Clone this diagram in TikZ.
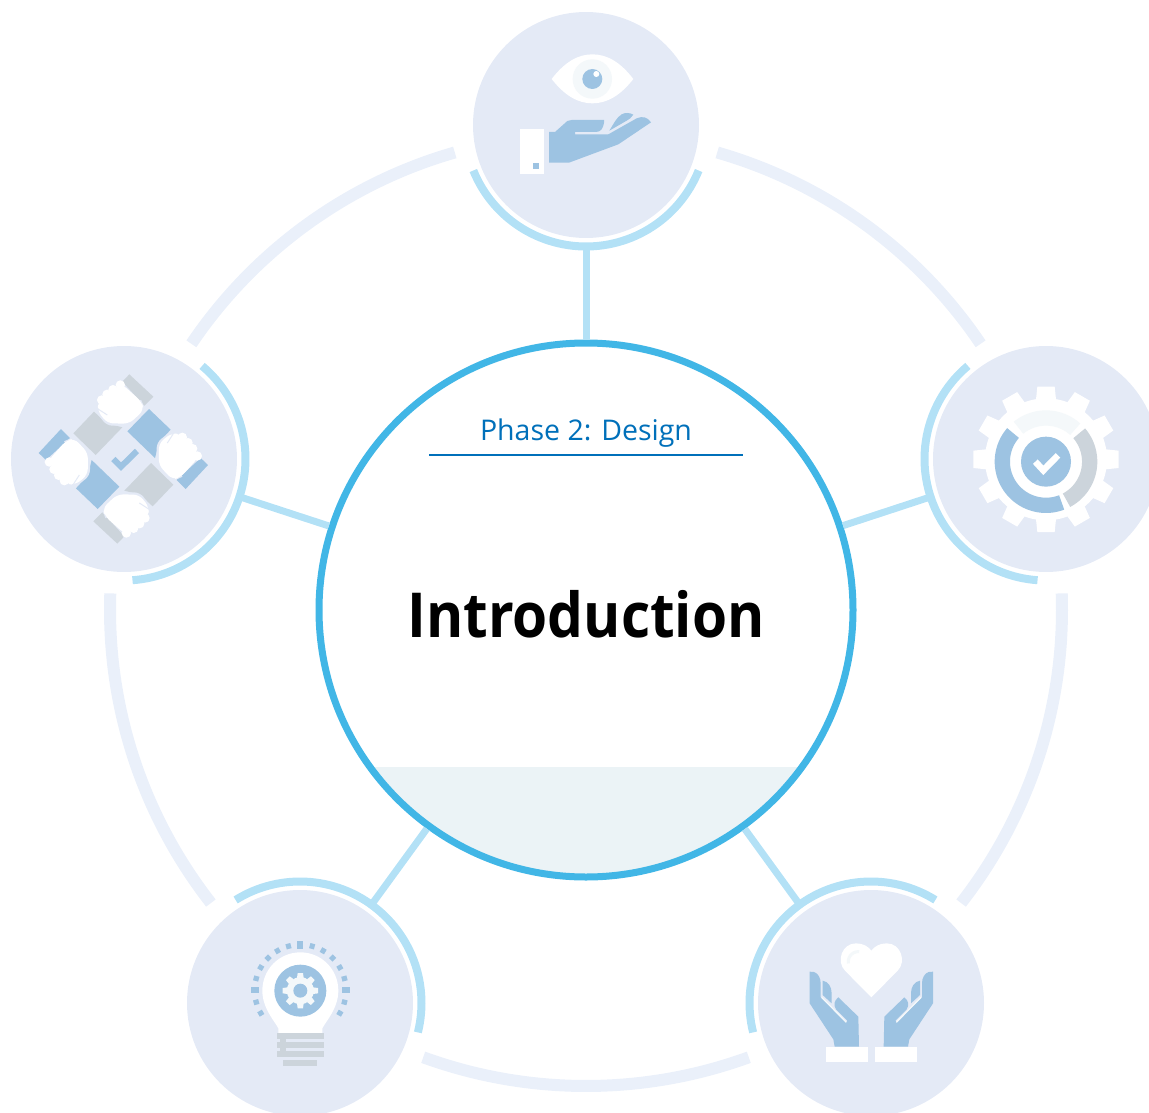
\documentclass[tikz,border=0pt]{standalone}
\usepackage{fontspec}
\setmainfont{Open Sans}
\newfontfamily\introfont{Open Sans}[FakeStretch=0.915]
\definecolor{hubblue}{HTML}{41B6E6}
\definecolor{armblue}{HTML}{B3E1F6}
\definecolor{ringpale}{HTML}{EAF0FA}
\definecolor{satfill}{HTML}{E4EAF6}
\definecolor{iconblue}{HTML}{9DC3E2}
\definecolor{icongray}{HTML}{CCD4DB}
\definecolor{iconpale}{HTML}{F4F8FA}
\definecolor{seafill}{HTML}{EBF3F6}
\definecolor{phaseblue}{HTML}{0070BA}
\newcommand{\ringarc}[6][]{\draw[#1,domain=#5:#6,samples=60,variable=\t] plot ({#2+#4*cos(\t)},{#3+#4*sin(\t)});}
\tikzset{
  sat/.style={circle,fill=satfill,minimum size=226pt,inner sep=0pt,outer sep=0pt},
  spoke/.style={armblue,line width=7pt,shorten <=3.5pt,shorten >=8.5pt},
  outerarc/.style={ringpale,line width=12pt},
  innerarc/.style={armblue,line width=8pt},
  zoomed/.style={x=0.33333pt,y=-0.33333pt}
}
\begin{document}
\begin{tikzpicture}[x=1pt,y=-1pt]
\useasboundingbox (0,0) rectangle (1149,1113);
% outer ring
\foreach \a in {-54,18,90,162,234}{
  \pgfmathsetmacro{\aa}{\a-20}\pgfmathsetmacro{\ab}{\a+20}
  \ringarc[outerarc]{586}{610}{476}{\aa}{\ab}
}
% centre
\node[circle,draw=hubblue,fill=white,line width=7pt,minimum size=534pt,inner sep=0pt,outer sep=0pt,
  path picture={\fill[seafill] (path picture bounding box.south west) rectangle ([yshift=-157pt]path picture bounding box.east);}] (hub) at (586,610) {};
% satellites
\node[sat] (eyeSat) at (586,125) {};
\node[sat] (gearSat) at (1046,459) {};
\node[sat] (heartSat) at (871,1003) {};
\node[sat] (bulbSat) at (300,1003) {};
\node[sat] (handsSat) at (124,459) {};
% spokes
\foreach \s in {eyeSat,gearSat,heartSat,bulbSat,handsSat}{\draw[spoke] (hub) -- (\s);}
% inner arcs
\ringarc[innerarc]{586}{125}{121.5}{22}{158}
\ringarc[innerarc]{1046}{459}{121.5}{94}{230}
\ringarc[innerarc]{871}{1003}{121.5}{166}{302}
\ringarc[innerarc]{300}{1003}{121.5}{238}{374}
\ringarc[innerarc]{124}{459}{121.5}{-50}{86}
% texts
\node[text=phaseblue,font=\fontsize{28.5}{34}\selectfont,inner sep=0pt] (phase) at (586,433) {Phase 2: Design};
\coordinate (ruleL) at (429,455);
\coordinate (ruleR) at (743,455);
\draw[phaseblue,line width=1.8pt] (ruleL) -- (ruleR);
\node[text=black,font=\fontsize{62}{70}\introfont\bfseries,inner sep=0pt] (intro) at (586,614) {Introduction};
% ---- eye and hand icon
\begin{scope}[shift={(470,10)},zoomed]
  \fill[white] (245,207) .. controls (285,155) and (325,133) .. (367,133) .. controls (410,133) and (450,155) .. (490,207) .. controls (450,258) and (410,280) .. (367,280) .. controls (325,280) and (285,258) .. (245,207) -- cycle;
  \fill[iconpale] (367,207) circle[radius=19.7pt];
  \fill[iconblue] (367,207) circle[radius=10pt];
  \fill[white] (379,192) circle[radius=3pt];
  \fill[white] (150,357) rectangle (222,491);
  \fill[iconblue] (189,459) rectangle (207,477);
  \fill[iconblue] (237,366) -- (255,366) -- (292,333) .. controls (296,331) and (300,330) .. (305,330) -- (402,330) -- (402,338) .. controls (400,355) and (392,366) .. (378,366) -- (315,366) -- (315,373) -- (415,373) -- (500,325) .. controls (518,317) and (533,322) .. (543,337) -- (445,403) -- (297,458) -- (237,458) -- cycle;
  \fill[iconblue] (418,362) .. controls (432,340) and (440,322) .. (455,313) .. controls (466,307) and (480,308) .. (490,314) .. controls (485,322) and (478,328) .. (470,332) -- cycle;
\end{scope}
% ---- gear icon
\begin{scope}[shift={(930,345)},zoomed]
  \begin{scope}[shift={(348,343)}]
    \foreach \a in {0,30,...,330}{
      \begin{scope}[rotate=\a]
        \fill[white] (-31,-170) -- (-26,-218) -- (26,-218) -- (31,-170) -- cycle;
      \end{scope}
    }
    \fill[white] (0,0) circle[radius=61pt];
  \end{scope}
  \ringarc[iconpale,line width=15.3pt]{348}{350}{131}{231}{312}
  \ringarc[iconblue,line width=15.3pt]{348}{350}{131}{69}{221}
  \ringarc[icongray,line width=15.3pt]{348}{350}{131}{-40.5}{62}
  \fill[iconblue] (348,350) circle[radius=25pt];
  \draw[white,line width=6.5pt] (316,350) -- (340,376) -- (384,331);
\end{scope}
% ---- four hands icon
\begin{scope}[shift={(5,345)},zoomed]
  \begin{scope}[shift={(355,342)}]
    \foreach \a/\c in {0/icongray,-90/iconblue,-180/icongray,-270/iconblue}{
      \begin{scope}[rotate=\a]
        \fill[\c] (18,-254) -- (90,-187) -- (63,-160) -- (-3,-232) -- cycle;
        \fill[\c] (-150,-77) -- (-88,-142) -- (-50,-107) -- (-3,-95) -- (-83,-12) -- cycle;
        \draw[satfill,line width=2.5pt,line join=round,rounded corners=5pt] (50,-176) -- (62,-147) -- (18,-103) -- (-48,-104) -- (-80,-145);
        \fill[white,rounded corners=6pt] (-6,-226) -- (55,-172) -- (62,-147) -- (18,-106) -- (-48,-107) -- (-78,-145) -- (-74,-172) -- cycle;
        \foreach \px/\py in {-9/-222,-31/-208,-49/-194,-65/-177}{
          \fill[white] (\px,\py) circle[radius=4.7pt];
        }
        \draw[satfill,line width=1pt] (-76,-150) -- (-48,-132);
      \end{scope}
    }
  \end{scope}
  \draw[iconblue,line width=6pt] (325,342) -- (348,365) -- (396,318);
\end{scope}
% ---- bulb icon
\begin{scope}[shift={(190,880)},zoomed]
  \foreach \t in {30,15,-15,-30,-60,-75,-105,-120,-150,-165,-195,-210,-45,-135}{
    \draw[iconblue,line width=5pt] ({331+129*cos(\t)},{331+129*sin(\t)}) -- ({331+145*cos(\t)},{331+145*sin(\t)});
  }
  \foreach \t in {0,-90,-180}{
    \draw[iconblue,line width=6pt] ({331+125*cos(\t)},{331+125*sin(\t)}) -- ({331+149*cos(\t)},{331+149*sin(\t)});
  }
  \fill[white] (265,462) -- (265,445) .. controls (255,425) and (217,385) .. (217,332) .. controls (217,268) and (268,217) .. (331,217) .. controls (394,217) and (445,268) .. (445,332) .. controls (445,385) and (407,425) .. (397,445) -- (397,462) -- cycle;
  \fill[iconblue] (331,332) circle[radius=26pt];
  \begin{scope}[shift={(331,332)}]
    \foreach \a in {0,45,...,315}{
      \begin{scope}[rotate=\a]
        \fill[iconpale] (-10,-38) -- (-8,-53) -- (8,-53) -- (10,-38) -- cycle;
      \end{scope}
    }
    \fill[iconpale] (0,0) circle[radius=13.5pt];
    \fill[iconblue] (0,0) circle[radius=7pt];
  \end{scope}
  \fill[icongray] (261,459) rectangle (402,478);
  \fill[icongray] (261,486) rectangle (402,504);
  \fill[icongray] (261,513) rectangle (402,531);
  \fill[icongray] (279,540) rectangle (381,558);
  \fill[icongray] (270,478) rectangle (288,513);
\end{scope}
% ---- heart in hands icon
\begin{scope}[shift={(750,880)},zoomed]
  \fill[white] (364,352) -- (285,272) .. controls (258,245) and (275,190) .. (318,190) .. controls (340,190) and (355,200) .. (364,212) .. controls (373,200) and (388,190) .. (410,190) .. controls (453,190) and (470,245) .. (443,272) -- cycle;
  \ringarc[iconpale,line width=3pt]{325}{245}{30}{170}{275}
  \foreach \m/\xs in {0/1,728/-1}{
    \begin{scope}[shift={(\m,0)},xscale=\xs]
      \fill[iconblue] (179,275) -- (192,276) .. controls (205,280) and (212,295) .. (212,310) -- (212,352) -- (288,427) -- (292,422) -- (258,388) .. controls (250,375) and (252,362) .. (265,352) -- (325,410) -- (327,500) -- (254,500) -- (250,478) -- (179,370) -- cycle;
      \fill[iconblue] (218,302) .. controls (235,305) and (245,320) .. (245,340) -- (245,370) -- (218,345) -- cycle;
      \draw[iconpale,line width=1.3pt] (215,352) -- (289,427);
      \fill[white] (228,501) rectangle (354,546);
    \end{scope}
  }
\end{scope}
\end{tikzpicture}
\end{document}
